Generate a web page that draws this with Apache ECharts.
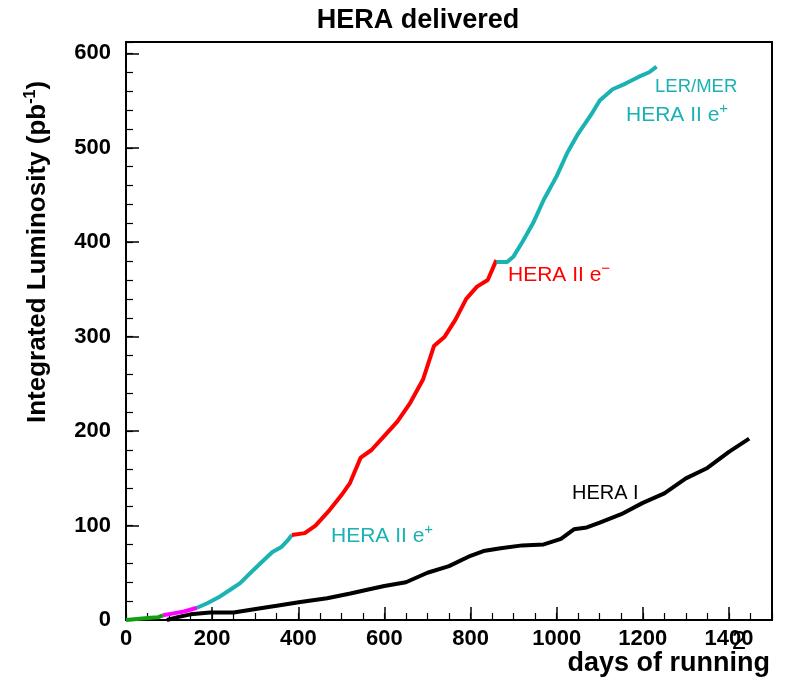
<!DOCTYPE html>
<html>
<head>
<meta charset="utf-8">
<script src="https://cdn.jsdelivr.net/npm/echarts@6/dist/echarts.min.js"></script>
<style>
html,body{margin:0;padding:0;background:#fff;}
#chart{width:791px;height:680px;}
</style>
</head>
<body>
<div id="chart"></div>
<script>
// ---- data (days of running, integrated luminosity pb^-1) ----
var heraI = [[95,0],[120,3],[150,6],[195,8],[250,8],[305,12],[350,15],[405,19],[467,23],[521,28],[560,32],[600,36],[650,40],[700,50],[750,57],[800,68],[830,73],[870,76],[920,79],[970,80],[1010,86],[1040,96],[1070,98],[1100,103],[1150,112],[1200,124],[1250,134],[1300,150],[1350,161],[1400,178],[1447,192]];
var heraGreen = [[0,0],[25,1],[50,2],[75,3],[86,5]];
var heraMagenta = [[86,5],[110,7],[135,9],[165,13]];
var heraIIePlus1 = [[165,13],[190,18],[215,24],[242,32],[265,39],[296,53],[319,63],[340,72],[360,77],[375,84],[385,90]];
var heraIIeMinus = [[385,90],[415,92],[440,100],[470,115],[500,132],[520,145],[545,172],[570,180],[600,195],[630,210],[660,230],[690,255],[715,290],[740,300],[765,318],[790,340],[815,353],[840,360],[860,381]];
var heraIIePlus2 = [[860,379],[885,379],[900,385],[920,400],[945,420],[970,445],[1000,470],[1025,495],[1050,515],[1080,535],[1100,550],[1130,562],[1160,568],[1190,575],[1215,580],[1232,586]];
var xMax = 1500, yMax = 612;

var chart = echarts.init(document.getElementById('chart'));
var FONT = 'Liberation Sans';
function line(data, color){
  return {type:'line', data:data, showSymbol:false, symbol:'none', xAxisIndex:0, yAxisIndex:0,
    lineStyle:{color:color, width:4}, animation:false};
}
var option = {
  animation:false,
  backgroundColor:'#fff',
  grid:{left:126, right:19, top:42, bottom:60, show:true, borderColor:'#000', borderWidth:2, backgroundColor:'transparent'},
  xAxis:[
    {type:'value', min:0, max:xMax, interval:200, position:'bottom',
     axisLine:{show:true, onZero:false, lineStyle:{color:'#000', width:2}},
     axisTick:{show:true, inside:true, length:13, lineStyle:{color:'#000', width:1.5}},
     axisLabel:{color:'#000', fontSize:22, fontWeight:'bold', fontFamily:FONT, margin:8,
       formatter:function(v){return v%200===0 ? String(v) : '';}},
     splitLine:{show:false}},
    {type:'value', min:0, max:xMax, interval:50, position:'bottom',
     axisLine:{show:false, onZero:false},
     axisTick:{show:true, inside:true, length:7, lineStyle:{color:'#000', width:1.2}},
     axisLabel:{show:false}, splitLine:{show:false}}
  ],
  yAxis:[
    {type:'value', min:0, max:yMax, interval:100, position:'left',
     axisLine:{show:true, onZero:false, lineStyle:{color:'#000', width:2}},
     axisTick:{show:true, inside:true, length:13, lineStyle:{color:'#000', width:1.5}},
     axisLabel:{color:'#000', fontSize:22, fontWeight:'bold', fontFamily:FONT, margin:15,
       formatter:function(v){return v%100===0 ? String(v) : '';}},
     splitLine:{show:false}},
    {type:'value', min:0, max:yMax, interval:20, position:'left',
     axisLine:{show:false, onZero:false},
     axisTick:{show:true, inside:true, length:7, lineStyle:{color:'#000', width:1.2}},
     axisLabel:{show:false}, splitLine:{show:false}}
  ],
  series:[
    line(heraI, '#000000'),
    line(heraGreen, '#10a010'),
    line(heraMagenta, '#ff00ff'),
    line(heraIIePlus1, '#1ab2b2'),
    line(heraIIeMinus, '#ff0000'),
    line(heraIIePlus2, '#1ab2b2')
  ],
  graphic:[
    {type:'text', x:418, y:21, style:{text:'HERA delivered', textAlign:'center', textVerticalAlign:'middle', font:'bold 27px "Liberation Sans"', fill:'#000'}},
    {type:'text', x:38, y:252, rotation:Math.PI/2, style:{text:'Integrated Luminosity (pb{sup|-1})', textAlign:'center', textVerticalAlign:'middle', font:'bold 26px "Liberation Sans"', fill:'#000',
       rich:{sup:{font:'bold 16px "Liberation Sans"', fill:'#000', padding:[0,0,14,0]}}}},
    {type:'text', x:770, y:664, style:{text:'days of running', textAlign:'right', textVerticalAlign:'middle', font:'bold 27px "Liberation Sans"', fill:'#000'}},
    {type:'text', x:739, y:642, style:{text:'2', textAlign:'center', textVerticalAlign:'middle', font:'26px "Liberation Sans"', fill:'#000'}},
    {type:'text', x:655, y:87, style:{text:'LER/MER', textAlign:'left', textVerticalAlign:'middle', font:'18.5px "Liberation Sans"', fill:'#1ab2b2'}},
    {type:'text', x:626, y:115, style:{text:'HERA II e{sup|+}', textAlign:'left', textVerticalAlign:'middle', font:'21px "Liberation Sans"', fill:'#1ab2b2',
       rich:{sup:{font:'15px "Liberation Sans"', fill:'#1ab2b2', padding:[0,0,12,0]}}}},
    {type:'text', x:508, y:275, style:{text:'HERA II e{sup|\u2212}', textAlign:'left', textVerticalAlign:'middle', font:'21px "Liberation Sans"', fill:'#ff0000',
       rich:{sup:{font:'15px "Liberation Sans"', fill:'#ff0000', padding:[0,0,12,0]}}}},
    {type:'text', x:331, y:536, style:{text:'HERA II e{sup|+}', textAlign:'left', textVerticalAlign:'middle', font:'21px "Liberation Sans"', fill:'#1ab2b2',
       rich:{sup:{font:'15px "Liberation Sans"', fill:'#1ab2b2', padding:[0,0,12,0]}}}},
    {type:'text', x:572, y:493, style:{text:'HERA I', textAlign:'left', textVerticalAlign:'middle', font:'20px "Liberation Sans"', fill:'#000'}}
  ]
};
chart.setOption(option);
</script>
</body>
</html>
